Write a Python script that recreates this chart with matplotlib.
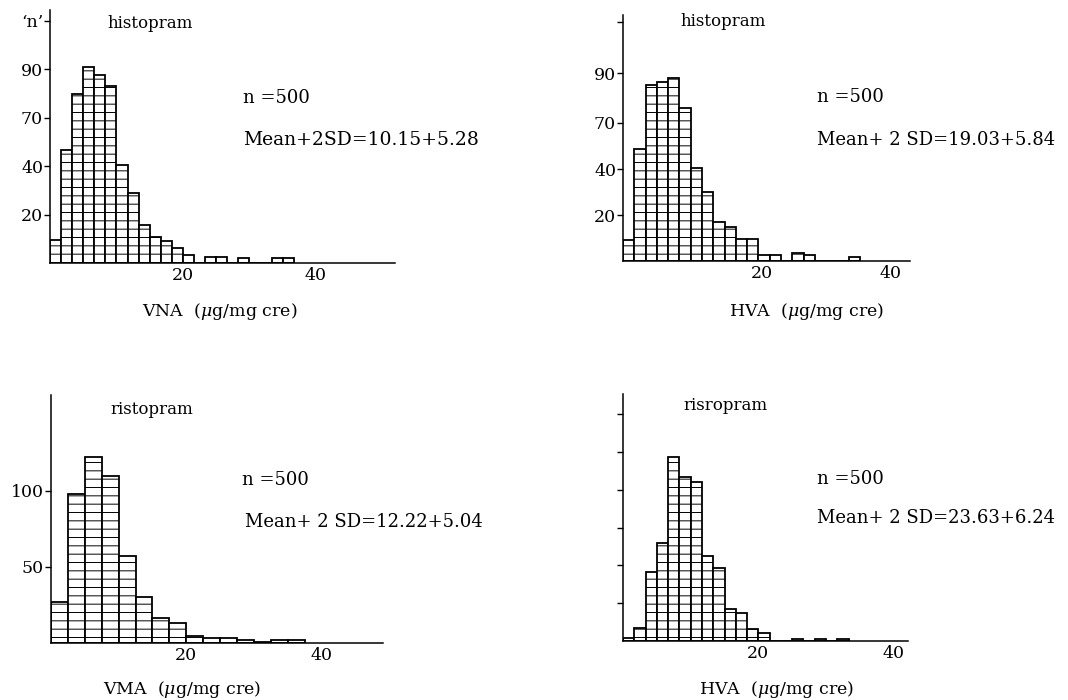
import matplotlib
matplotlib.use('Agg')
import matplotlib.pyplot as plt
import numpy as np

plt.rcParams['font.family'] = 'DejaVu Serif'
plt.rcParams['mathtext.fontset'] = 'dejavuserif'
plt.rcParams['hatch.color'] = 'black'
plt.rcParams['hatch.linewidth'] = 0.7

# counts (one value per bin)
vna_counts = [9.4, 46.6, 69.6, 81, 77.5, 73.1, 40.4, 29.1, 15.8, 10.7, 9, 6.2, 3.2,
              0, 2.5, 2.5, 0, 2.1, 0, 0, 2.1, 2.1]
vna_start, vna_width = 0.0, 1.67

hva_top_counts = [9.2, 48.8, 76.9, 78, 79.8, 66.7, 40.8, 30, 17.2, 15, 9.5, 9.5, 2.6,
                  2.6, 0, 3.4, 2.6, 0, 0, 0, 1.9]
hva_top_start, hva_top_width = -1.55, 1.75

vma_counts = [27, 98.2, 122, 109.9, 57, 30.3, 16.4, 13.2, 4.6, 3.2, 3.2, 2.0, 0.7, 2.0, 2.0]
vma_start, vma_width = 0.0, 2.5

hva_bot_counts = [1.4, 6.7, 36.7, 52, 97.2, 86.6, 84, 45, 38.4, 16.8, 14.6, 6.3, 4.4,
                  0, 0, 1, 0, 1, 0, 1]
hva_bot_start, hva_bot_width = 0.0, 1.67

# y tick positions and the labels printed on the original figure
vna_yticks = [20, 40, 60, 80, 100]
vna_ylabels = ['20', '40', '70', '90', '\u2018n\u2019']
hva_top_yticks = [20, 40, 60.4, 82, 104.5]
hva_top_ylabels = ['20', '40', '70', '90', '']
vma_yticks = [50, 100]
vma_ylabels = ['50', '100']
hva_bot_yticks = [20, 40, 60, 80, 100, 120]
hva_bot_ylabels = ['', '', '', '', '', '']

W, H = 1068, 700
fig = plt.figure(figsize=(W / 100, H / 100), dpi=100)


def px_rect(l, t, r, b):
    return [l / W, 1 - b / H, (r - l) / W, (b - t) / H]


def hist_panel(rect, counts, start, width, xlim, ylim, yticks, ylabels):
    ax = fig.add_axes(px_rect(*rect))
    edges = start + width * np.arange(len(counts))
    ax.bar(edges, counts, width=width, align='edge', facecolor='white',
           edgecolor='black', linewidth=1.3, hatch='--')
    ax.set_xlim(*xlim)
    ax.set_ylim(*ylim)
    for s in ['top', 'right']:
        ax.spines[s].set_visible(False)
    for s in ['left', 'bottom']:
        ax.spines[s].set_linewidth(1.1)
    ax.set_xticks([20, 40])
    ax.set_xticklabels(['20', '40'])
    ax.tick_params(axis='x', length=0, pad=3, labelsize=12.5)
    ax.set_yticks(yticks)
    ax.set_yticklabels(ylabels)
    ax.tick_params(axis='y', length=4, width=1, pad=1, labelsize=12.5)
    return ax


hist_panel((50, 10, 395, 263), vna_counts, vna_start, vna_width,
           (0, 52), (0, 104.5), vna_yticks, vna_ylabels)
hist_panel((623, 15, 910, 261), hva_top_counts, hva_top_start, hva_top_width,
           (-1.55, 42.95), (0, 107.4), hva_top_yticks, hva_top_ylabels)
hist_panel((51, 395, 383, 643), vma_counts, vma_start, vma_width,
           (0, 49.1), (0, 163), vma_yticks, vma_ylabels)
hist_panel((623, 394, 908, 641), hva_bot_counts, hva_bot_start, hva_bot_width,
           (0, 42.2), (0, 130.7), hva_bot_yticks, hva_bot_ylabels)


def label(x, y, s, ha='left', size=13):
    fig.text(x / W, 1 - y / H, s, ha=ha, va='center', fontsize=size)


# panel annotations
label(107, 24, 'histopram', size=12)
label(243, 98, 'n =500')
label(243, 140, 'Mean+2SD=10.15+5.28', size=13.5)
label(220, 312, 'VNA  ($\\mu$g/mg cre)', ha='center', size=12.5)

label(680, 22, 'histopram', size=12)
label(817, 97, 'n =500')
label(817, 140, 'Mean+ 2 SD=19.03+5.84')
label(807, 312, 'HVA  ($\\mu$g/mg cre)', ha='center', size=12.5)

label(110, 409, 'ristopram', size=12)
label(242, 480, 'n =500')
label(245, 522, 'Mean+ 2 SD=12.22+5.04')
label(182, 690, 'VMA  ($\\mu$g/mg cre)', ha='center', size=12.5)

label(683, 405, 'risropram', size=12)
label(817, 479, 'n =500')
label(817, 518, 'Mean+ 2 SD=23.63+6.24')
label(777, 690, 'HVA  ($\\mu$g/mg cre)', ha='center', size=12.5)

fig.savefig('out.png', dpi=100)
